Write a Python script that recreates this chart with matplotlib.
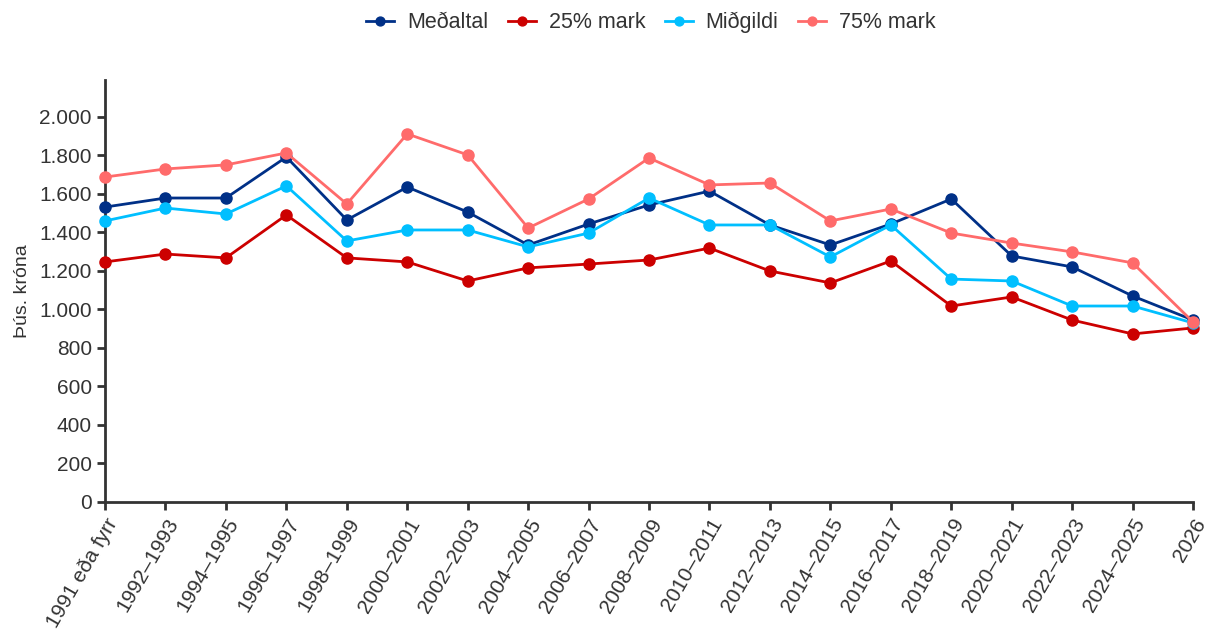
import matplotlib
matplotlib.use("Agg")
import matplotlib.pyplot as plt
from matplotlib.ticker import FuncFormatter

plt.rcParams['font.family'] = ['Liberation Sans', 'DejaVu Sans']

categories = ["1991 eða fyrr", "1992–1993", "1994–1995", "1996–1997", "1998–1999",
              "2000–2001", "2002–2003", "2004–2005", "2006–2007", "2008–2009",
              "2010–2011", "2012–2013", "2014–2015", "2016–2017", "2018–2019",
              "2020–2021", "2022–2023", "2024–2025", "2026"]

medaltal = [1532, 1579, 1579, 1792, 1465, 1636, 1506, 1335, 1444, 1543,
            1615, 1439, 1335, 1444, 1574, 1278, 1221, 1070, 945]
mark25 = [1247, 1288, 1268, 1491, 1268, 1247, 1148, 1216, 1236, 1257,
          1319, 1200, 1138, 1252, 1018, 1065, 945, 873, 904]
midgildi = [1460, 1527, 1496, 1642, 1356, 1413, 1413, 1325, 1397, 1579,
            1439, 1439, 1273, 1439, 1158, 1148, 1018, 1018, 930]
mark75 = [1688, 1730, 1751, 1813, 1548, 1912, 1803, 1423, 1574, 1787,
          1647, 1657, 1460, 1522, 1397, 1345, 1299, 1242, 935]

series = [
    ("Meðaltal", medaltal, "#003087"),
    ("25% mark", mark25, "#CC0000"),
    ("Miðgildi", midgildi, "#00BFFF"),
    ("75% mark", mark75, "#FF6B6B"),
]

fig = plt.figure(figsize=(12.1, 6.3), dpi=100)
ax = fig.add_axes([0.0868, 0.2032, 0.8992, 0.6698])

x = list(range(len(categories)))
for name, vals, col in series:
    ax.plot(x, vals, color=col, lw=2, marker='o', ms=8, label=name, clip_on=False, zorder=3)

ax.set_xlim(0, len(categories) - 1)
ax.set_ylim(0, 2192)
ax.set_yticks(range(0, 2001, 200))
ax.yaxis.set_major_formatter(FuncFormatter(lambda v, p: f"{int(v):,}".replace(",", ".")))
ax.set_xticks(x)
ax.set_xticklabels(categories, rotation=60, ha='right', rotation_mode='anchor')

for s in ['top', 'right']:
    ax.spines[s].set_visible(False)
for s in ['left', 'bottom']:
    ax.spines[s].set_linewidth(2)
    ax.spines[s].set_color('#333333')
ax.tick_params(axis='both', colors='#333333', labelcolor='#333333', labelsize=15,
               width=2, length=6)
ax.set_ylabel("Þús. króna", fontsize=14, color='#333333', labelpad=6)

fig.legend(loc='upper center', bbox_to_anchor=(0.538, 1.012), ncol=4, frameon=False,
           fontsize=15.5, handlelength=1.3, columnspacing=0.9, handletextpad=0.6,
           labelcolor='#333333', markerscale=0.8)

fig.savefig("out.png", dpi=100)
